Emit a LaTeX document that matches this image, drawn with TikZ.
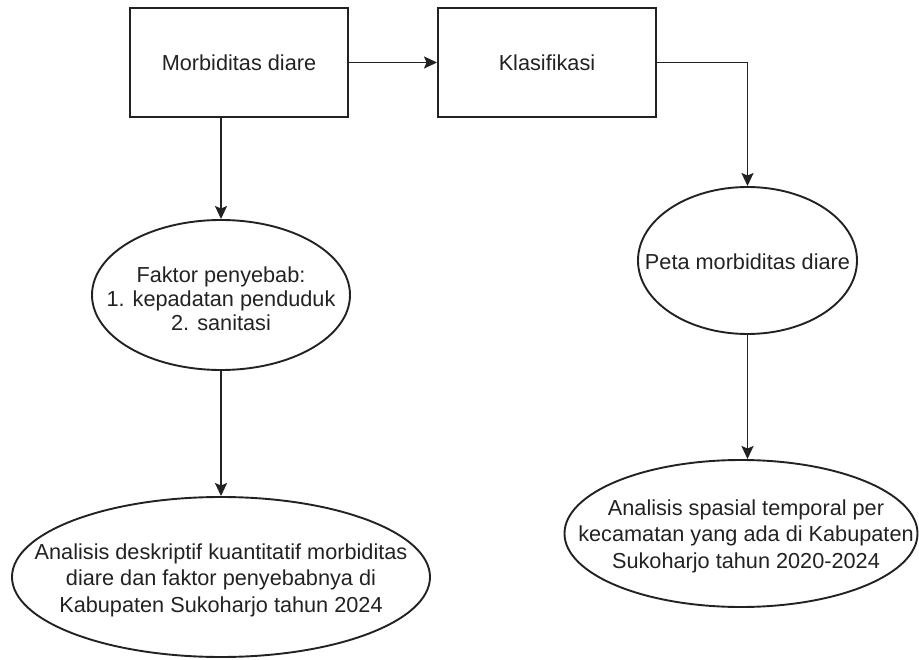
\documentclass[tikz,border=0pt]{standalone}
\usepackage{fontspec}
\setmainfont{Liberation Sans}
\usetikzlibrary{shapes.geometric,arrows.meta}
\definecolor{ink}{HTML}{222222}
\tikzset{
  boxnode/.style={draw=ink, line width=1.9pt, minimum width=218pt, minimum height=109pt, inner sep=0pt},
  ellnode/.style={draw=ink, line width=1.9pt, ellipse, inner sep=0pt},
  txt/.style={text=ink, font=\fontsize{21.7}{26.5}\selectfont, align=center, inner sep=0pt},
  arr/.style={draw=ink, line width=1.9pt, -{Stealth[length=13pt,width=12pt,inset=2.5pt]}}
}
\begin{document}
\begin{tikzpicture}[x=1pt,y=-1pt]
\useasboundingbox (0,0) rectangle (919,660);
% boxes
\node[boxnode] (b1) at (239,62.5) {};
\node[txt] (b1t) at (b1.center) {Morbiditas diare};
\node[boxnode] (b2) at (547,62.5) {};
\node[txt] (b2t) at (b2.center) {Klasifikasi};
% ellipses
\node[ellnode, minimum width=258pt, minimum height=150pt] (f) at (221,295) {};
\node[txt, font=\fontsize{21.7}{23.8}\selectfont] (ft) at (221,299) {Faktor penyebab:\\1. kepadatan penduduk\\2. sanitasi};
\node[ellnode, minimum width=418pt, minimum height=160pt] (d) at (221,577) {};
\node[txt] (dt) at (221,580) {Analisis deskriptif kuantitatif morbiditas\\diare dan faktor penyebabnya di\\Kabupaten Sukoharjo tahun 2024};
\node[ellnode, minimum width=219pt, minimum height=147pt] (p) at (747.5,260.5) {};
\node[txt] (pt) at (747.5,262) {Peta morbiditas diare};
\node[ellnode, minimum width=353pt, minimum height=147pt] (s) at (741,533.5) {};
\node[txt] (st) at (746,536) {Analisis spasial temporal per\\kecamatan yang ada di Kabupaten\\Sukoharjo tahun 2020-2024};
% connectors
\draw[arr] (b1.east) -- (b2.west);
\draw[arr] (b2.east) -| (p.north);
\draw[arr] (b1.south -| f.north) -- (f.north);
\draw[arr] (f.south) -- (f.south |- d.north);
\draw[arr] (p.south) -- (p.south |- s.north);
\end{tikzpicture}
\end{document}
